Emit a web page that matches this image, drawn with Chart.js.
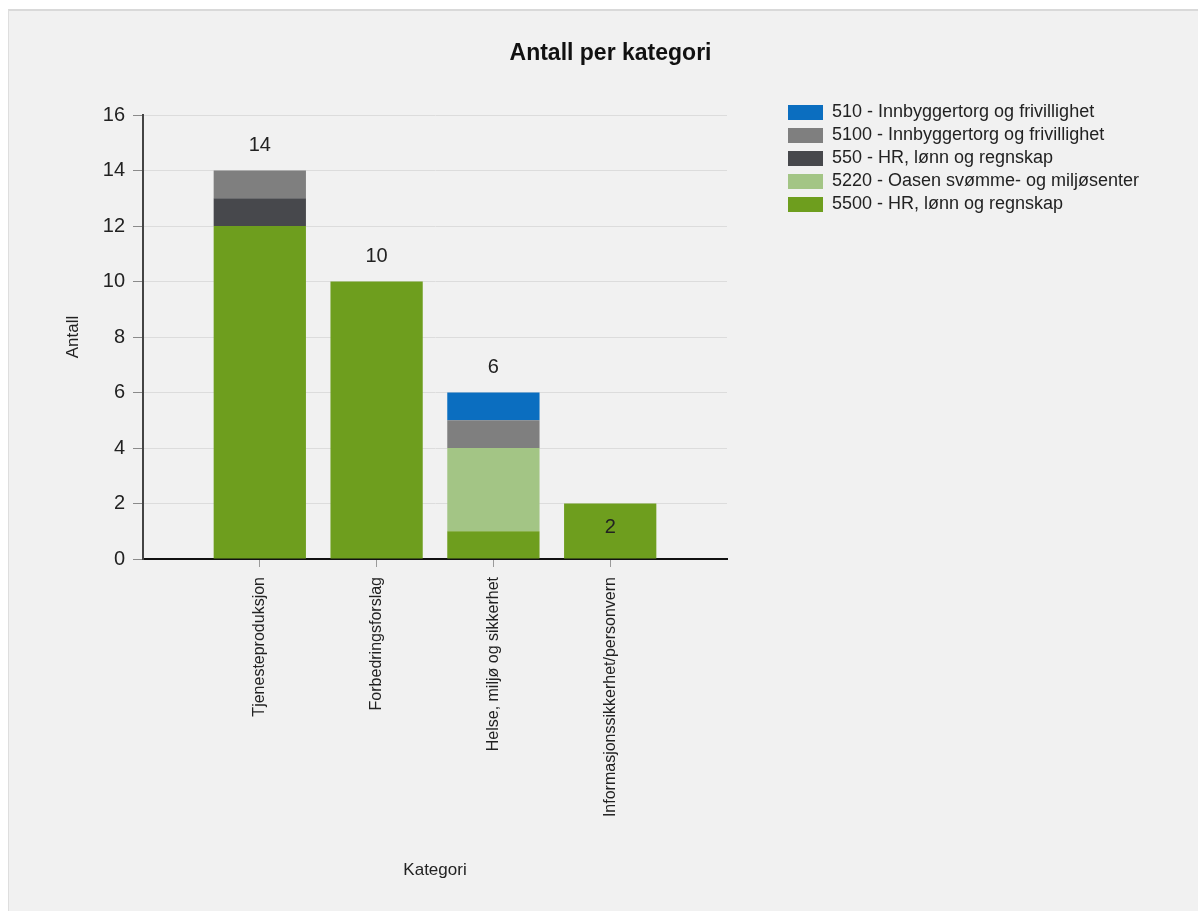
<!DOCTYPE html>
<html><head><meta charset="utf-8">
<script src="https://cdn.jsdelivr.net/npm/chart.js@4.4.1/dist/chart.umd.min.js"></script>
<style>
html,body{margin:0;padding:0;background:#fff;overflow:hidden;width:1198px;height:911px;}
#panel{position:absolute;left:8px;top:9px;width:1190px;height:902px;background:#f1f1f1;border-top:2px solid #d9d9d9;border-left:1px solid #dedede;box-sizing:border-box;}
#c{position:absolute;left:9px;top:11px;}
</style></head><body>
<div id="panel"></div>
<canvas id="c" width="1189" height="900"></canvas>
<script>
// ---- data ----
const categories = ['Tjenesteproduksjon', 'Forbedringsforslag', 'Helse, miljø og sikkerhet', 'Informasjonssikkerhet/personvern'];
const seriesNames = ['510 - Innbyggertorg og frivillighet', '5100 - Innbyggertorg og frivillighet', '550 - HR, lønn og regnskap', '5220 - Oasen svømme- og miljøsenter', '5500 - HR, lønn og regnskap'];
const s510  = [0, 0, 1, 0];
const s5100 = [1, 0, 1, 0];
const s550  = [1, 0, 0, 0];
const s5220 = [0, 0, 3, 0];
const s5500 = [12, 10, 1, 2];
const yTicks = [0, 2, 4, 6, 8, 10, 12, 14, 16];

// ---- styles / layout ----
const colors = ['#0b6ec0', '#7f7f7f', '#47484c', '#a3c585', '#6e9e1e'];
const FONT = '"Liberation Sans", Arial, sans-serif';
const Y_BOX_W = 134, X_BOX_H = 352, LEGEND_BOX_W = 471;
const LEGEND_X = 779, LEGEND_Y = 92.5, TITLE_DX = 7;
const LABEL_INSIDE_MAX = 2;

const pad = a => [null, ...a, null];
const labels = ['', ...categories, ''];
const seriesData = [s510, s5100, s550, s5220, s5500];
// bottom-up stacking order: 5500, 5220, 550, 5100, 510
const datasets = [4, 3, 2, 1, 0].map(i => ({
  label: seriesNames[i],
  data: pad(seriesData[i]),
  backgroundColor: colors[i],
  borderWidth: 0,
  categoryPercentage: 1,
  barPercentage: 0.79
}));

const placement = {
  id: 'placement',
  afterInit(chart) {
    const lg = chart.legend;
    const origFit = lg.fit.bind(lg);
    lg.fit = function () { origFit(); this.width = LEGEND_BOX_W; };
  },
  afterLayout(chart) {
    const lg = chart.legend;
    const p = lg.options.labels.padding;
    const dx = LEGEND_X - p - lg.left;
    lg.left += dx; lg.right += dx;
    const dy = LEGEND_Y - p - lg.top;
    lg.top += dy; lg.bottom += dy;
    const t = chart.titleBlock;
    t.left += TITLE_DX; t.right += TITLE_DX;
  }
};

const totals = {
  id: 'totals',
  afterDatasetsDraw(chart) {
    const {ctx, scales: {x, y}} = chart;
    ctx.save();
    ctx.font = '20px ' + FONT;
    ctx.fillStyle = '#222';
    ctx.textAlign = 'center';
    ctx.textBaseline = 'middle';
    categories.forEach((c, i) => {
      const total = seriesData.reduce((s, arr) => s + arr[i], 0);
      const px = x.getPixelForValue(i + 1);
      const top = y.getPixelForValue(total);
      const py = total <= LABEL_INSIDE_MAX ? top + 24 : top - 25;
      ctx.fillText(String(total), px, py);
    });
    ctx.restore();
  }
};

new Chart(document.getElementById('c'), {
  type: 'bar',
  data: { labels, datasets },
  plugins: [placement, totals],
  options: {
    responsive: false,
    animation: false,
    devicePixelRatio: 1,
    layout: { padding: 0 },
    plugins: {
      title: {
        display: true,
        text: 'Antall per kategori',
        color: '#111',
        font: { family: FONT, size: 23, weight: 'bold' },
        padding: { top: 29, bottom: 47.4 }
      },
      legend: {
        position: 'right',
        align: 'start',
        reverse: true,
        labels: {
          color: '#222',
          font: { family: FONT, size: 18 },
          boxWidth: 35,
          boxHeight: 15,
          padding: 5
        }
      },
      tooltip: { enabled: false }
    },
    scales: {
      x: {
        stacked: true,
        offset: false,
        afterFit(s) { s.height = X_BOX_H; },
        grid: {
          display: true,
          offset: false,
          drawOnChartArea: false,
          drawTicks: true,
          tickLength: 8,
          tickColor: c => (c.tick && c.tick.label) ? '#9a9a9a' : 'rgba(0,0,0,0)'
        },
        border: { display: true, color: '#111', width: 2 },
        ticks: {
          autoSkip: false,
          minRotation: 90,
          maxRotation: 90,
          padding: 10,
          color: '#222',
          font: { family: FONT, size: 16 }
        },
        title: {
          display: true,
          text: 'Kategori',
          color: '#222',
          font: { family: FONT, size: 17 },
          padding: { top: 10, bottom: 30.8 }
        }
      },
      y: {
        stacked: true,
        min: 0,
        max: 16,
        afterFit(s) { s.width = Y_BOX_W; },
        afterBuildTicks(s) { s.ticks = yTicks.map(v => ({ value: v })); },
        grid: {
          color: '#dcdcdc',
          lineWidth: 1,
          tickLength: 10,
          tickColor: '#8a8a8a'
        },
        border: { display: true, color: '#444', width: 2 },
        ticks: {
          padding: 8,
          color: '#222',
          font: { family: FONT, size: 20 }
        },
        title: {
          display: true,
          text: 'Antall',
          color: '#222',
          font: { family: FONT, size: 17 },
          padding: { top: 53.8, bottom: 0 }
        }
      }
    }
  }
});
</script>
</body></html>
